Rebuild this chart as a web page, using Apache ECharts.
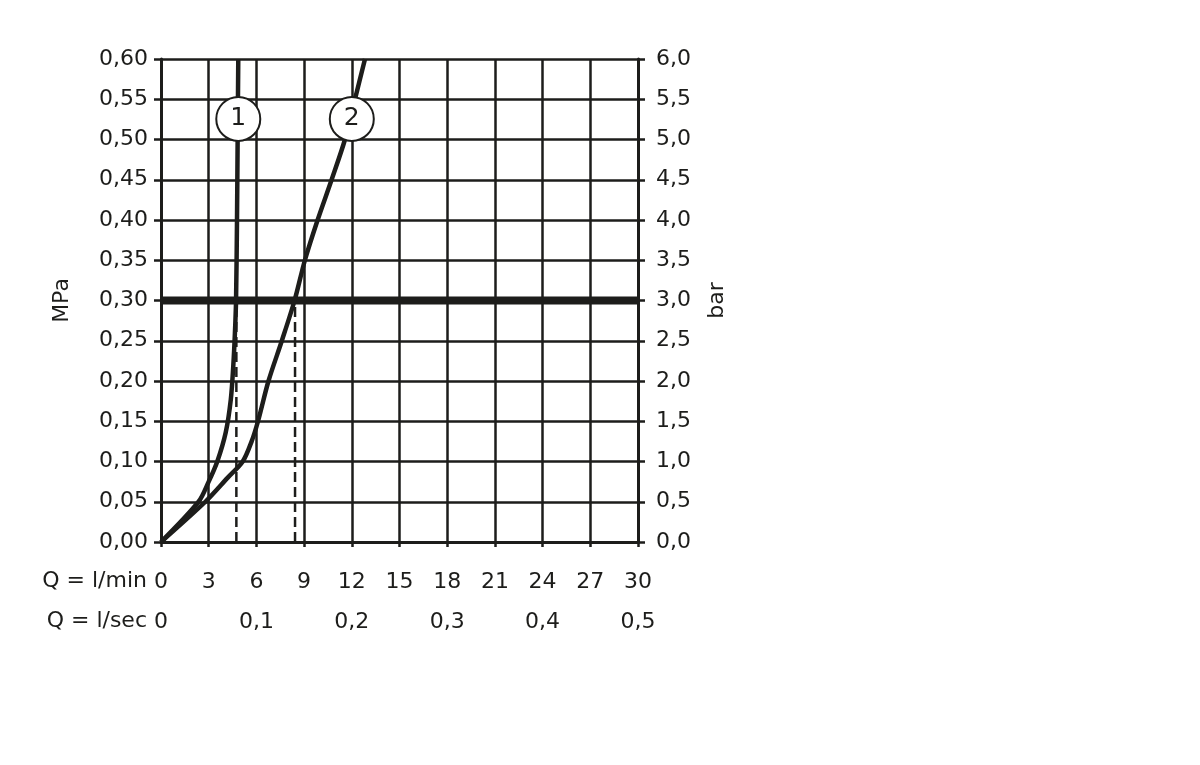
<!DOCTYPE html>
<html>
<head>
<meta charset="utf-8">
<script src="https://cdn.jsdelivr.net/npm/echarts@6/dist/echarts.min.js"></script>
<style>html,body{margin:0;padding:0;background:#fff}#c{width:1200px;height:765px}</style>
</head>
<body>
<div id="c"></div>
<script>
// Flow (l/min) vs pressure (MPa)
const curve1 = [[0,0],[2.36,0.05],[3,0.075],[3.54,0.1],[4.07,0.136],[4.39,0.177],[4.55,0.22],[4.65,0.26],[4.72,0.3],[4.78,0.4],[4.82,0.5],[4.86,0.6]];
const curve2 = [[0,0],[2.79,0.05],[4.2,0.08],[5.14,0.1],[5.7,0.125],[6.1,0.15],[6.76,0.2],[7.6,0.25],[8.4,0.3],[9.05,0.35],[9.85,0.4],[10.73,0.45],[11.57,0.5],[12.2,0.55],[12.83,0.6]];
const dash1 = [[4.74,0],[4.74,0.3]];
const dash2 = [[8.43,0],[8.43,0.3]];
const refLine = [[0,0.3],[30,0.3]];
const curveLabels = [{value:[4.86,0.5255], name:'1'},{value:[12.0,0.5255], name:'2'}];
const xMinLabel = 'Q = l/min';
const xSecLabel = 'Q = l/sec';

const INK = '#1d1d1b';
const FONT = 'DejaVu Sans';
const FS = 22;
const FW = 'normal';
const chart = echarts.init(document.getElementById('c'), null, {renderer:'canvas'});
const comma = (v, d) => v.toFixed(d).replace('.', ',');
chart.setOption({
  backgroundColor:'#fff',
  animation:false,
  textStyle:{fontFamily:FONT, color:INK},
  grid:{left:161, right:562, top:59, bottom:223},
  xAxis:[{
    type:'value', min:0, max:30, interval:3, position:'bottom',
    axisLine:{show:true, onZero:false, lineStyle:{color:INK, width:3}},
    axisTick:{show:true, inside:false, length:5, lineStyle:{color:INK, width:2.5}},
    axisLabel:{margin:29, fontSize:FS, color:INK, fontFamily:FONT, fontWeight:FW, formatter:v=>String(v)},
    splitLine:{show:true, lineStyle:{color:INK, width:2.5}}
  },{
    type:'value', min:0, max:0.5, interval:0.1, position:'bottom', offset:40,
    axisLine:{show:false}, axisTick:{show:false}, splitLine:{show:false},
    axisLabel:{margin:29, fontSize:FS, color:INK, fontFamily:FONT, fontWeight:FW, formatter:v=> v===0 ? '0' : comma(v,1)}
  }],
  yAxis:[{
    type:'value', min:0, max:0.6, interval:0.05, position:'left',
    name:'MPa', nameLocation:'middle', nameRotate:90, nameGap:88,
    nameTextStyle:{fontSize:FS, color:INK, fontFamily:FONT, fontWeight:FW},
    axisLine:{show:true, onZero:false, lineStyle:{color:INK, width:3}},
    axisTick:{show:true, length:7, lineStyle:{color:INK, width:2.5}},
    axisLabel:{margin:13, fontSize:FS, color:INK, fontFamily:FONT, fontWeight:FW, formatter:v=>comma(v,2)},
    splitLine:{show:true, lineStyle:{color:INK, width:2.5}}
  },{
    type:'value', min:0, max:6, interval:0.5, position:'right',
    name:'bar', nameLocation:'middle', nameRotate:90, nameGap:68,
    nameTextStyle:{fontSize:FS, color:INK, fontFamily:FONT, fontWeight:FW},
    axisLine:{show:true, onZero:false, lineStyle:{color:INK, width:3}},
    axisTick:{show:true, length:7, lineStyle:{color:INK, width:2.5}},
    axisLabel:{margin:18, fontSize:FS, color:INK, fontFamily:FONT, fontWeight:FW, formatter:v=>comma(v,1)},
    splitLine:{show:false}
  }],
  graphic:[
    {type:'text', right:1200-147, top:570, style:{text:xMinLabel, font:FS+'px "'+FONT+'"', fill:INK, textAlign:'right'}},
    {type:'text', right:1200-147, top:610, style:{text:xSecLabel, font:FS+'px "'+FONT+'"', fill:INK, textAlign:'right'}}
  ],
  series:[
    {type:'line', data:refLine, symbol:'none', lineStyle:{color:INK, width:8, cap:'butt'}, z:3, silent:true},
    {type:'line', data:dash1, symbol:'none', lineStyle:{color:INK, width:2.5, type:[10,5]}, z:3, silent:true},
    {type:'line', data:dash2, symbol:'none', lineStyle:{color:INK, width:2.5, type:[10,5]}, z:3, silent:true},
    {type:'line', data:curve1, symbol:'none', smooth:0.3, clip:true, lineStyle:{color:INK, width:4.5}, z:4, silent:true},
    {type:'line', data:curve2, symbol:'none', smooth:0.3, clip:true, lineStyle:{color:INK, width:4.5}, z:4, silent:true},
    {type:'scatter', data:curveLabels, symbol:'circle', symbolSize:44, z:6, silent:true,
     itemStyle:{color:'#fff', borderColor:INK, borderWidth:2, opacity:1},
     label:{show:true, position:'inside', formatter:p=>p.name, fontSize:25, color:INK, fontFamily:FONT, fontWeight:FW}}
  ]
});
</script>
</body>
</html>
